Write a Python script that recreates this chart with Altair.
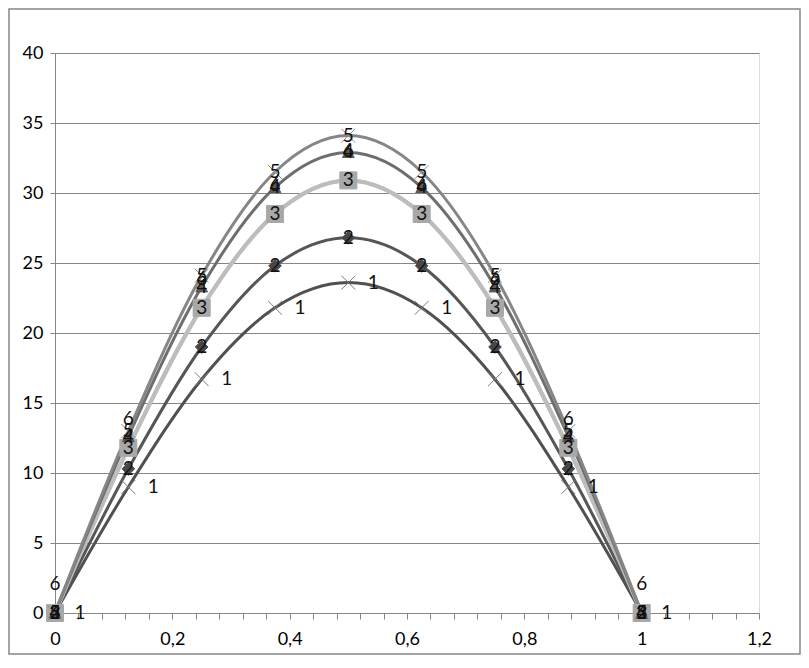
import altair as alt
import pandas as pd

x_vals = [0, 0.125, 0.25, 0.375, 0.5, 0.625, 0.75, 0.875, 1]
s1 = [0, 9.0, 16.7, 21.8, 23.6, 21.8, 16.7, 9.0, 0]
s2 = [0, 10.3, 19.0, 24.8, 26.8, 24.8, 19.0, 10.3, 0]
s3 = [0, 11.8, 21.8, 28.5, 30.9, 28.5, 21.8, 11.8, 0]
s4 = [0, 12.6, 23.3, 30.4, 32.9, 30.4, 23.3, 12.6, 0]
s5 = [0, 13.0, 24.1, 31.5, 34.1, 31.5, 24.1, 13.0, 0]
s6 = [0, 11.8, 21.8, 28.5, 30.9, 28.5, 21.8, 11.8, 0]
series_names = ["1", "2", "3", "4", "5", "6"]

FONT = "Lato"
XPATH = "M-1,-1L1,1M-1,1L1,-1"

styles = {
    "1": dict(line="#505050", lw=3, shape=XPATH, size=190, color="#7a7a7a", filled=False, dx=25, dy=0),
    "2": dict(line="#565656", lw=3, shape="diamond", size=160, color="#474747", filled=True, dx=0, dy=0),
    "3": dict(line="#bdbdbd", lw=4, shape="square", size=290, color="#a8a8a8", filled=True, dx=0, dy=0),
    "4": dict(line="#6e6e6e", lw=3, shape="triangle-up", size=140, color="#5a5a5a", filled=True, dx=0, dy=0),
    "5": dict(line="#868686", lw=3, shape=XPATH, size=190, color="#8c8c8c", filled=False, dx=0, dy=0),
    "6": dict(line="#bdbdbd", lw=4, shape=None, size=0, color="#bdbdbd", filled=True, dx=0, dy=-29),
}

series_vals = {"1": s1, "2": s2, "3": s3, "4": s4, "5": s5, "6": s6}

xscale = alt.Scale(domain=[0, 1.2], nice=False, zero=False)
yscale = alt.Scale(domain=[0, 40], nice=False)

tick_vals = [round(i * 0.04, 2) for i in range(31)]

axis_x = alt.Axis(
    values=tick_vals,
    labelExpr="abs(datum.value*5 - round(datum.value*5)) < 0.001 ? replace(format(datum.value, '.1~f'), '.', ',') : ''",
    grid=False, tickSize=6, tickColor="#868686", domainColor="#868686",
    labelFontSize=18, labelFont=FONT, labelColor="#000000", labelPadding=11,
    title=None, labelFlush=False, labelOverlap=False,
)
axis_y = alt.Axis(
    values=list(range(0, 41, 5)), grid=True, gridColor="#868686", gridWidth=1,
    tickSize=5, tickColor="#868686", domainColor="#868686",
    labelFontSize=18, labelFont=FONT, labelColor="#000000", labelPadding=7,
    title=None, labelOverlap=False,
)

X = alt.X("x:Q", scale=xscale, axis=axis_x)
Y = alt.Y("y:Q", scale=yscale, axis=axis_y)

layers = []
for name in ["6", "1", "2", "3", "4", "5"]:
    st = styles[name]
    df = pd.DataFrame({"x": x_vals, "y": series_vals[name], "s": name})
    layers.append(
        alt.Chart(df).mark_line(interpolate="monotone", color=st["line"], strokeWidth=st["lw"]).encode(x=X, y=Y)
    )
for name in ["1", "2", "3", "4", "5"]:
    st = styles[name]
    df = pd.DataFrame({"x": x_vals, "y": series_vals[name], "s": name})
    b = alt.Chart(df)
    if st["filled"]:
        pm = b.mark_point(shape=st["shape"], size=st["size"], filled=True, color=st["color"], opacity=1,
                          stroke=st["color"], strokeWidth=1)
    else:
        pm = b.mark_point(shape=st["shape"], size=st["size"], filled=False, color=st["color"], opacity=1,
                          strokeWidth=1)
    layers.append(pm.encode(x=X, y=Y))
for name in ["1", "2", "3", "4", "5", "6"]:
    st = styles[name]
    df = pd.DataFrame({"x": x_vals, "y": series_vals[name], "s": name})
    layers.append(
        alt.Chart(df).mark_text(font=FONT, fontSize=19, color="#111111", align="center", baseline="middle",
                                dx=st["dx"], dy=st["dy"]).encode(x=X, y=Y, text="s:N")
    )

frame = alt.Chart(pd.DataFrame({"a": [0]})).mark_rect(
    filled=False, stroke="#878787", strokeWidth=1.5
).encode(x=alt.value(-46), x2=alt.value(745), y=alt.value(-44), y2=alt.value(601))

chart = alt.layer(*layers, frame).properties(
    width=704, height=560,
    padding={"left": 47, "top": 45, "right": 42, "bottom": 44},
    autosize=alt.AutoSizeParams(type="none"),
).configure_view(stroke=None).configure(background="white")

chart.save("out.html", embed_options={"renderer": "svg", "actions": False})
